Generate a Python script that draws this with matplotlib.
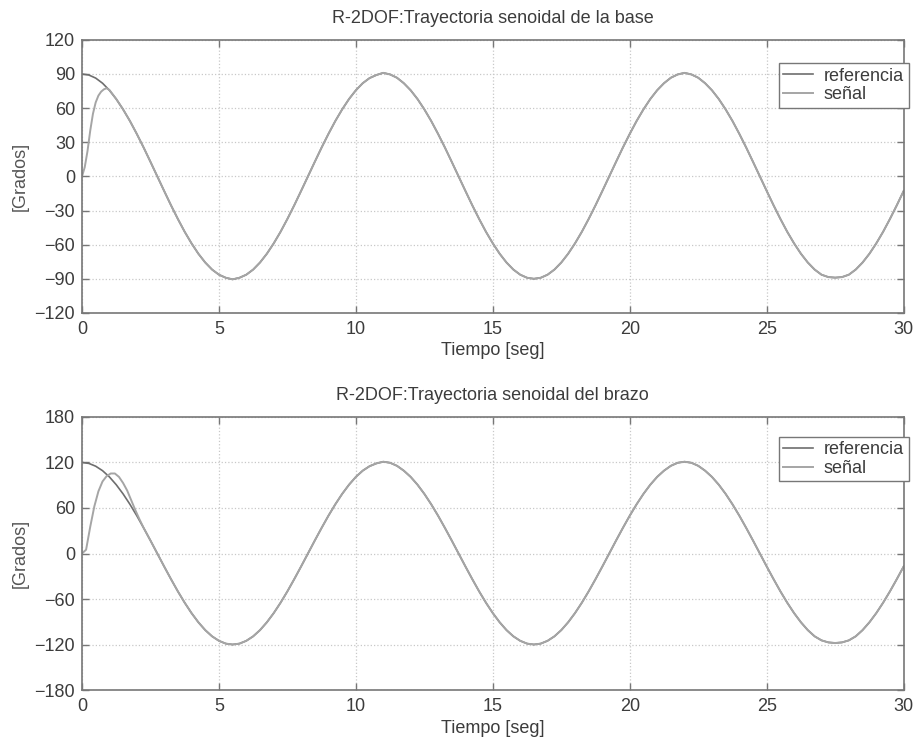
import numpy as np
import matplotlib.pyplot as plt

plt.rcParams['font.family'] = ['Liberation Sans', 'DejaVu Sans']

# tiempo de muestreo de la referencia (cada 0.25 s, 0..30 s)
t_ref = np.arange(0, 30.001, 0.25)

# referencia de la base [grados] (un periodo por fila)
ref_base = [
    90, 89.1, 86.4, 81.9, 75.7, 68.0, 58.9, 48.7, 37.4, 25.4, 12.8, 0,
    -12.8, -25.4, -37.4, -48.7, -58.9, -68.0, -75.7, -81.9, -86.4, -89.1, -90.5,
    -89.1, -86.4, -81.9, -75.7, -68.0, -58.9, -48.7, -37.4, -25.4, -12.8, 0,
    12.8, 25.4, 37.4, 48.7, 58.9, 68.0, 75.7, 81.9, 86.4, 89.1,
    91, 89.6, 86.7, 81.9, 75.7, 68.0, 58.9, 48.7, 37.4, 25.4, 12.8, 0,
    -12.8, -25.4, -37.4, -48.7, -58.9, -68.0, -75.7, -81.9, -86.4, -89.1, -90,
    -89.1, -86.4, -81.9, -75.7, -68.0, -58.9, -48.7, -37.4, -25.4, -12.8, 0,
    12.8, 25.4, 37.4, 48.7, 58.9, 68.0, 75.7, 81.9, 86.7, 89.6,
    91, 89.6, 86.7, 81.9, 75.7, 68.0, 58.9, 48.7, 37.4, 25.4, 12.8, 0,
    -12.8, -25.4, -37.4, -48.7, -58.9, -68.0, -75.7, -81.9, -86.4, -88.5, -89,
    -88.5, -86.4, -81.9, -75.7, -68.0, -58.9, -48.7, -37.4, -25.4, -12.8,
]

# referencia del brazo [grados]
ref_brazo = [
    120, 118.8, 115.1, 109.2, 101.0, 90.7, 78.6, 64.9, 49.9, 33.8, 17.1, 0,
    -17.1, -33.8, -49.9, -64.9, -78.6, -90.7, -101.0, -109.2, -115.1, -118.8, -120,
    -118.8, -115.1, -109.2, -101.0, -90.7, -78.6, -64.9, -49.9, -33.8, -17.1, 0,
    17.1, 33.8, 49.9, 64.9, 78.6, 90.7, 101.0, 109.2, 115.1, 118.8,
    121, 119.6, 115.6, 109.2, 101.0, 90.7, 78.6, 64.9, 49.9, 33.8, 17.1, 0,
    -17.1, -33.8, -49.9, -64.9, -78.6, -90.7, -101.0, -109.2, -115.1, -118.8, -120,
    -118.8, -115.1, -109.2, -101.0, -90.7, -78.6, -64.9, -49.9, -33.8, -17.1, 0,
    17.1, 33.8, 49.9, 64.9, 78.6, 90.7, 101.0, 109.2, 115.6, 119.6,
    121, 119.6, 115.6, 109.2, 101.0, 90.7, 78.6, 64.9, 49.9, 33.8, 17.1, 0,
    -17.1, -33.8, -49.9, -64.9, -78.6, -90.7, -101.0, -109.2, -114.5, -117.2, -118,
    -117.2, -114.5, -109.2, -101.0, -90.7, -78.6, -64.9, -49.9, -33.8, -17.1,
]

# transitorio de la señal (arranca en 0)
t_tr_base = [0, 0.1, 0.2, 0.3, 0.4, 0.5, 0.6, 0.7, 0.8, 0.9, 1.0]
tr_base = [0, 8, 22, 40, 55, 65, 71, 74.5, 76.5, 77.5, 76]
t_tr_brazo = [0, 0.15, 0.3, 0.45, 0.6, 0.75, 0.9, 1.05, 1.2, 1.35, 1.5, 1.65, 1.8, 1.95, 2.1]
tr_brazo = [0, 5, 35, 62, 82, 95, 102, 105.5, 105.5, 101, 93, 83, 70, 57, 45]

# despues del transitorio la señal sigue a la referencia
t_sig_base = list(t_tr_base) + list(t_ref[5:])
sig_base = tr_base + ref_base[5:]
t_sig_brazo = list(t_tr_brazo) + list(t_ref[9:])
sig_brazo = tr_brazo + ref_brazo[9:]

c_ref = '#6e6e6e'
c_sig = '#a5a5a5'
c_txt = '#3c3c3c'

fig = plt.figure(figsize=(9.15, 7.38), dpi=100)
ax1 = fig.add_axes([0.0896, 0.576, 0.898, 0.370])
ax2 = fig.add_axes([0.0896, 0.065, 0.898, 0.370])

paneles = [
    (ax1, ref_base, t_sig_base, sig_base, 'R-2DOF:Trayectoria senoidal de la base',
     np.arange(-120, 121, 30), 120, 0.915),
    (ax2, ref_brazo, t_sig_brazo, sig_brazo, 'R-2DOF:Trayectoria senoidal del brazo',
     np.arange(-180, 181, 60), 180, 0.928),
]

for ax, ref, ts, sig, titulo, yt, lim, ley_y in paneles:
    ax.plot(t_ref, ref, color=c_ref, lw=1.2, label='referencia')
    ax.plot(ts, sig, color=c_sig, lw=1.4, label='señal')
    ax.set_xlim(0, 30)
    ax.set_ylim(-lim, lim)
    ax.set_xticks(np.arange(0, 31, 5))
    ax.set_yticks(yt)
    ax.grid(True, linestyle=':', color='#c8c8c8', lw=0.9)
    ax.tick_params(direction='in', length=5, width=1, color='#777777',
                   labelsize=13, labelcolor=c_txt, top=True, right=True)
    ax.tick_params(axis='y', pad=5)
    ax.tick_params(axis='x', pad=6)
    for s in ax.spines.values():
        s.set_color('#777777')
        s.set_linewidth(1.2)
    ax.set_title(titulo, fontsize=13, color=c_txt, pad=12)
    ax.set_xlabel('Tiempo [seg]', fontsize=13, color=c_txt, labelpad=3)
    ax.set_ylabel('[Grados]', fontsize=13, color='#555555', labelpad=4)
    leg = ax.legend(loc='upper right', bbox_to_anchor=(1.006, ley_y), borderaxespad=0,
                    fontsize=13, fancybox=False, framealpha=1, edgecolor='#777777',
                    handlelength=1.65, handletextpad=0.6, borderpad=0.25,
                    labelspacing=0.1)
    leg.get_frame().set_linewidth(1.0)
    for txt in leg.get_texts():
        txt.set_color(c_txt)

plt.savefig('out.png', dpi=100)
